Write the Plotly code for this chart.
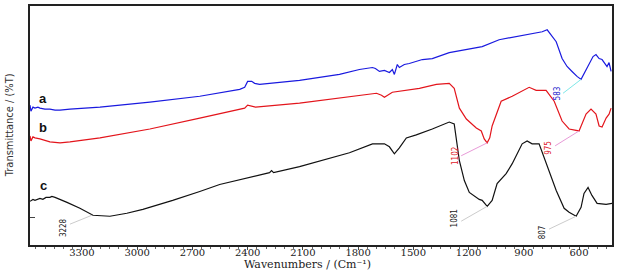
import plotly.graph_objects as go

# ---- data (wavenumber cm^-1, transmittance in arbitrary offset units) ----
wn_a = [3582, 3577, 3566, 3555, 3539, 3528, 3501, 3474, 3446, 3419, 3365, 3202, 2931, 2660,
        2443, 2416, 2400, 2378, 2362, 2335, 2118, 1901, 1793, 1722, 1706, 1684, 1657, 1630,
        1614, 1603, 1587, 1576, 1549, 1522, 1451, 1397, 1305, 1126, 1034, 941, 844, 800, 773,
        752, 724, 692, 665, 638, 611, 589, 567, 546, 524, 508, 491, 475, 459, 448, 437, 426]
t_a = [141, 135, 139, 138, 139, 138, 137, 137, 136, 136, 137, 139, 144, 150,
       157, 159, 165, 165, 163, 162, 166, 172, 177, 179, 178, 175, 176, 174,
       177, 172, 182, 179, 182, 183, 187, 188, 194, 200, 207, 210, 213, 215, 217,
       212, 205, 188, 180, 175, 170, 167, 175, 183, 190, 192, 188, 187, 182, 180, 184, 175]

wn_b = [3582, 3577, 3566, 3555, 3528, 3474, 3419, 3365, 3202, 2931, 2660, 2416, 2400, 2378,
        2357, 2118, 1901, 1700, 1673, 1657, 1614, 1467, 1375, 1305, 1278, 1250, 1212, 1158,
        1131, 1115, 1099, 1085, 1072, 1050, 1023, 963, 909, 871, 833, 779, 735, 692, 654,
        600, 562, 535, 508, 491, 475, 453, 437, 426]
t_b = [110, 105, 109, 108, 107, 104, 103, 104, 108, 117, 128, 138, 141, 140,
       139, 143, 148, 153, 151, 149, 154, 158, 162, 163, 158, 138, 127, 118,
       115, 107, 103, 108, 120, 132, 145, 150, 155, 159, 156, 156, 145, 125, 117,
       115, 132, 137, 132, 120, 119, 128, 132, 138]

wn_c = [3582, 3566, 3555, 3528, 3512, 3495, 3474, 3463, 3446, 3419, 3381, 3311, 3240, 3148,
        3056, 2969, 2807, 2660, 2552, 2281, 2270, 2259, 2118, 1847, 1722, 1657, 1630, 1603,
        1576, 1538, 1484, 1397, 1305, 1278, 1261, 1250, 1223, 1196, 1142, 1126, 1099, 1072,
        1045, 996, 963, 909, 882, 855, 817, 779, 724, 681, 654, 616, 589, 573, 551, 530,
        502, 453, 421]
t_c = [44, 46, 45, 47, 46, 48, 48, 49, 48, 46, 43, 37, 30, 29,
       32, 36, 45, 54, 61, 73, 75, 73, 79, 93, 102, 102, 99, 92,
       98, 108, 111, 117, 124, 122, 98, 85, 65, 53, 46, 45, 39, 45,
       62, 72, 82, 102, 105, 102, 102, 82, 55, 37, 33, 29, 38, 52, 58, 50,
       42, 41, 42]

x_ticks = [3300, 3000, 2700, 2400, 2100, 1800, 1500, 1200, 900, 600]

# peak labels
peak_text = ["3228", "1081", "807", "1102", "975", "583"]
peak_lbl_wn = [3403, 1278, 800, 1267, 763, 719]
peak_lbl_t = [18, 27, 13, 90, 98, 153]
peak_from_wn = [3365, 1240, 763, 1240, 730, 687]
peak_from_t = [21, 24, 16, 90, 100, 153]
peak_to_wn = [3246, 1099, 616, 1099, 600, 589]
peak_to_t = [30, 39, 29, 103, 115, 167]
peak_col = ["#222222", "#222222", "#222222", "#e0202a", "#e0202a", "#2222cc"]
peak_line_col = ["#cccccc", "#cccccc", "#cccccc", "#e89ad8", "#e89ad8", "#7fe8e8"]

series_names = ["a", "b", "c"]
series_lbl_wn = [3511, 3511, 3511]
series_lbl_t = [148, 118, 60]

fig = go.Figure()
fig.add_trace(go.Scatter(x=wn_a, y=t_a, mode="lines", line=dict(color="#1a1adf", width=1.2), name="a"))
fig.add_trace(go.Scatter(x=wn_b, y=t_b, mode="lines", line=dict(color="#e3151c", width=1.2), name="b"))
fig.add_trace(go.Scatter(x=wn_c, y=t_c, mode="lines", line=dict(color="#111111", width=1.2), name="c"))

for i in range(len(peak_text)):
    fig.add_trace(go.Scatter(x=[peak_from_wn[i], peak_to_wn[i]], y=[peak_from_t[i], peak_to_t[i]],
                             mode="lines", line=dict(color=peak_line_col[i], width=1),
                             hoverinfo="skip"))
    fig.add_annotation(x=peak_lbl_wn[i], y=peak_lbl_t[i], text=peak_text[i], showarrow=False,
                       textangle=-90,
                       font=dict(family="Liberation Sans Narrow, DejaVu Sans Condensed, Arial Narrow",
                                 size=8, color=peak_col[i]))

for i in range(3):
    fig.add_annotation(x=series_lbl_wn[i], y=series_lbl_t[i], text="<b>%s</b>" % series_names[i],
                       showarrow=False,
                       font=dict(family="Liberation Sans, Arial", size=13, color="#111111"))

fig.add_annotation(xref="paper", yref="paper", x=0.477, y=-0.112, yanchor="bottom",
                   text="Wavenumbers / (Cm⁻¹)", showarrow=False, borderpad=0,
                   font=dict(family="DejaVu Serif, Liberation Serif", size=11, color="#222222"))
fig.add_annotation(xref="paper", yref="paper", x=-0.035, xanchor="center", y=0.5,
                   text="Transmittance / (%T)", showarrow=False, textangle=-90,
                   font=dict(family="Liberation Sans Narrow, DejaVu Sans Condensed, Arial Narrow",
                             size=11, color="#333333"))

fig.update_layout(
    width=620, height=273,
    margin=dict(l=30, r=8, t=4, b=28),
    paper_bgcolor="white", plot_bgcolor="white",
    showlegend=False,
    xaxis=dict(range=[3582, 421], tickvals=x_ticks, ticktext=[str(v) for v in x_ticks],
               showgrid=False, zeroline=False, showline=True, linecolor="#222222", linewidth=1.5,
               mirror=True, ticks="outside", ticklen=3, tickcolor="#444444",
               ticklabelstandoff=-6,
               minor=dict(dtick=50, ticks="outside", ticklen=2, tickcolor="#666666"),
               tickfont=dict(family="DejaVu Serif, Liberation Serif", size=10, color="#222222")),
    yaxis=dict(range=[0, 241], showgrid=False, zeroline=False, showline=True,
               linecolor="#222222", linewidth=1.5, mirror=True,
               tickvals=[28], ticks="inside", ticklen=5, tickcolor="#444444",
               showticklabels=False),
)

fig.write_html("out.html", config={"displayModeBar": False},
               post_script="document.body.style.margin='0px';")
